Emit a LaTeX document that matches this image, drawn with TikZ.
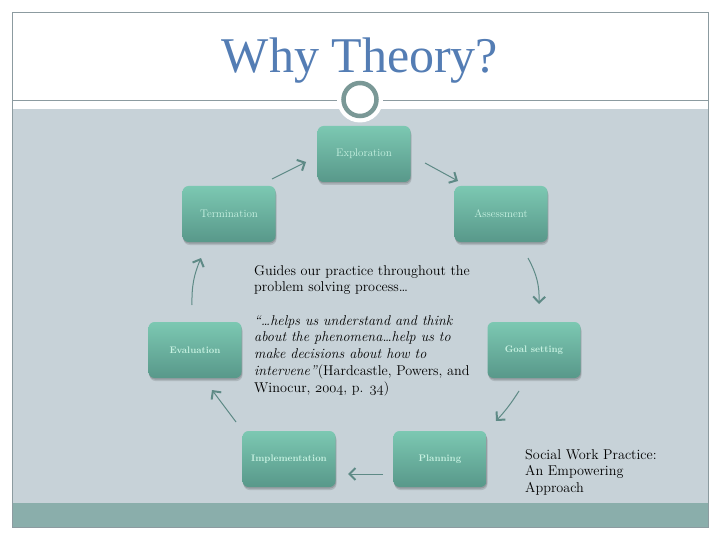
\documentclass[tikz,border=0pt]{standalone}
\usepackage{fontspec}
\newfontfamily\titlefont{Liberation Serif}
\usetikzlibrary{arrows.meta}
\definecolor{bandgray}{RGB}{199,210,216}
\definecolor{bandteal}{RGB}{138,174,171}
\definecolor{framegray}{RGB}{140,155,160}
\definecolor{titleblue}{RGB}{84,125,180}
\definecolor{boxtop}{RGB}{124,200,178}
\definecolor{boxbot}{RGB}{88,152,138}
\definecolor{boxtxt}{RGB}{200,242,226}
\definecolor{arrcol}{RGB}{94,138,134}
\definecolor{ringcol}{RGB}{122,152,150}
\newcommand{\osn}[1]{$\mathnormal{#1}$}
\tikzset{
  stage/.style={rounded corners=6pt, minimum width=93pt, minimum height=56pt,
    top color=boxtop, bottom color=boxbot, text=boxtxt, inner sep=0pt,
    font=\fontsize{11}{13}\selectfont,
    preaction={fill=black, opacity=0.12, rounded corners=6pt, transform canvas={xshift=1pt,yshift=-3pt}},
    preaction={fill=black, opacity=0.15, rounded corners=6pt, transform canvas={xshift=0.5pt,yshift=-1.5pt}}},
  stagebold/.style={stage, font=\fontsize{9.5}{12}\selectfont\bfseries},
  flow/.style={draw=arrcol, line width=1pt, -{Straight Barb[line width=2pt, length=6pt, width=12pt]}},
  bodytext/.style={align=left, inner sep=0pt, font=\fontsize{14.2}{16.7}\selectfont, text=black}
}
\begin{document}
\begin{tikzpicture}[x=1pt, y=-1pt]
\useasboundingbox (0,0) rectangle (720,540);
\fill[white] (0,0) rectangle (720,540);
% bands
\fill[bandgray] (12,109) rectangle (708,503);
\fill[bandteal] (12,503) rectangle (708,527);
\draw[framegray, line width=0.8pt] (12,12) rectangle (708,527);
\draw[framegray, line width=0.8pt] (12,100.5) -- (708,100.5);
% title
\node[anchor=base, text=titleblue, font=\titlefont\fontsize{50}{54}\selectfont, inner sep=0pt] (title) at (360,73) {Why Theory?};
% ring
\fill[white] (360,99.5) circle (23);
\draw[ringcol, line width=4.5pt] (360,99.5) circle (16.5);
% stages
\node[stage] (expl) at (364,154) {Exploration};
\node[stage] (term) at (229,214) {Termination};
\node[stage] (asse) at (501,214) {Assessment};
\node[stagebold] (eval) at (195,350) {Evaluation};
\node[stagebold] (goal) at (534,350) {Goal setting};
\node[stagebold] (impl) at (289,459) {Implementation};
\node[stagebold] (plan) at (440,459) {Planning};
% connector endpoints
\coordinate (c1s) at (272,179); \coordinate (c1e) at (306,162);
\coordinate (c2s) at (425,163); \coordinate (c2e) at (458,181);
\coordinate (c3s) at (528,258); \coordinate (c3e) at (539,304);
\coordinate (c4s) at (519,391); \coordinate (c4e) at (496,421);
\coordinate (c5s) at (383,474); \coordinate (c5e) at (348,474);
\coordinate (c6s) at (236,422); \coordinate (c6e) at (212,390);
\coordinate (c7s) at (192,305); \coordinate (c7e) at (201,258);
\draw[flow] (c1s) -- (c1e);
\draw[flow] (c2s) -- (c2e);
\draw[flow] (c3s) to[bend left=15] (c3e);
\draw[flow] (c4s) to[bend left=5] (c4e);
\draw[flow] (c5s) -- (c5e);
\draw[flow] (c6s) -- (c6e);
\draw[flow] (c7s) to[bend left=12] (c7e);
% texts
\node[bodytext, anchor=north west] (guide) at (254,265)
  {Guides our practice throughout the\\problem solving process\ldots\\[16.7pt]
   \textit{``\ldots helps us understand and think}\\
   \textit{about the phenomena\ldots help us to}\\
   \textit{make decisions about how to}\\
   \textit{intervene''}(Hardcastle, Powers, and\\
   Winocur, \osn{2004}, p. \osn{34})};
\node[bodytext, anchor=north west] (book) at (525,449)
  {Social Work Practice:\\An Empowering\\Approach};
\end{tikzpicture}
\end{document}
